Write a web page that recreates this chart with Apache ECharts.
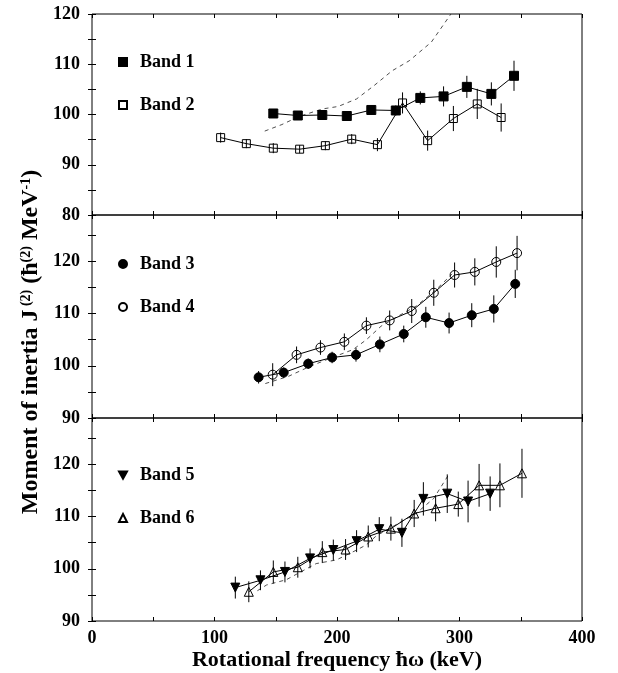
<!DOCTYPE html>
<html>
<head>
<meta charset="utf-8">
<script src="https://cdn.jsdelivr.net/npm/echarts@6/dist/echarts.min.js"></script>
<style>
  html, body { margin: 0; padding: 0; background: #fff; }
  #chart { width: 618px; height: 673px; }
</style>
</head>
<body>
<div id="chart"></div>
<script>
// panel 1
var band1X = [148, 168, 188, 208, 228, 248, 268, 287, 306, 326, 344.5];
var band1Y = [100.2, 99.8, 99.9, 99.7, 100.9, 100.8, 103.3, 103.6, 105.5, 104.1, 107.7];
var band1Err = [0.8, 0.8, 0.8, 0.8, 0.9, 1.0, 1.3, 2.0, 2.2, 2.3, 3.0];
var band2X = [105, 126, 148, 169.5, 190.5, 212, 233, 253.5, 274, 295, 314.5, 334];
var band2Y = [95.4, 94.2, 93.3, 93.1, 93.8, 95.1, 94.0, 102.3, 94.8, 99.2, 102.1, 99.4];
var band2Err = [1.0, 0.9, 1.0, 0.8, 0.9, 1.0, 1.3, 2.1, 2.0, 2.5, 3.0, 2.8];
var dash1X = [141, 155, 169, 188, 201, 216, 230, 245, 259, 277, 293];
var dash1Y = [96.7, 98.0, 99.6, 101.1, 101.6, 103.1, 105.7, 108.7, 110.7, 114.4, 120];

// panel 2
var band3X = [136, 156.5, 176.5, 196, 215.5, 235, 254.5, 272.5, 291.5, 310, 328, 345.5];
var band3Y = [97.8, 98.7, 100.4, 101.6, 102.1, 104.1, 106.1, 109.3, 108.2, 109.7, 110.9, 115.7];
var band3Err = [1.2, 1.0, 1.0, 1.1, 1.3, 1.5, 1.6, 2.0, 2.0, 2.3, 2.6, 2.7];
var band4X = [147.5, 167, 186.5, 206, 224, 243, 261, 279, 296, 312.5, 330, 347];
var band4Y = [98.3, 102.1, 103.5, 104.6, 107.7, 108.7, 110.5, 114.0, 117.4, 118.0, 119.9, 121.6];
var band4Err = [2.2, 1.6, 1.4, 1.6, 1.6, 1.9, 2.3, 2.5, 2.4, 2.6, 3.0, 3.3];
var dash2X = [141.5, 160.5, 178, 195, 213, 224, 236, 250.5, 265, 280, 294];
var dash2Y = [96.6, 98.0, 99.9, 101.5, 103.1, 105.0, 107.6, 109.6, 111.5, 114.4, 117.6];

// panel 3
var band5X = [117, 137.5, 157.5, 178, 197, 216, 234.5, 253, 270.5, 290, 307, 325];
var band5Y = [96.4, 97.8, 99.4, 102.0, 103.6, 105.3, 107.6, 106.9, 113.4, 114.4, 112.9, 114.4];
var band5Err = [2.1, 1.9, 2.0, 1.9, 2.0, 2.1, 2.3, 2.7, 3.2, 3.7, 4.0, 3.3];
var band6X = [128, 148, 168, 188, 207, 225.5, 244, 263, 280.5, 299, 316, 333, 351];
var band6Y = [95.6, 99.4, 100.3, 103.2, 103.7, 106.2, 107.7, 110.6, 111.6, 112.4, 116.0, 116.0, 118.3];
var band6Err = [2.0, 2.2, 2.0, 2.1, 2.0, 2.1, 2.3, 2.6, 2.5, 2.4, 4.1, 4.2, 4.7];
var dash3X = [135, 142.5, 158.5, 183, 199.5, 216, 224, 232, 247, 264.5, 279, 290.5];
var dash3Y = [95.8, 96.9, 97.9, 101.0, 101.7, 103.6, 104.6, 106.3, 108.3, 110.6, 113.5, 117.8];

var yMin = [80, 90, 90];
var yMax = [120, 128.9, 128.9];
var gridTop = [14, 215, 418];
var gridH = [201, 203, 203];

var FONT = 'Liberation Serif';
var downTri = 'path://M0,0L10,0L5,9Z';

function pairs(xs, ys) {
    var d = [];
    for (var i = 0; i < xs.length; i++) d.push([xs[i], ys[i]]);
    return d;
}

function bandSeries(name, xs, ys, idx, symbol, filled, size) {
    return {
        name: name,
        type: 'line',
        xAxisIndex: idx,
        yAxisIndex: idx,
        data: pairs(xs, ys),
        symbol: symbol,
        symbolSize: size,
        showSymbol: true,
        lineStyle: { color: '#000', width: 1 },
        itemStyle: { color: filled ? '#000' : 'rgba(0,0,0,0)', borderColor: '#000', borderWidth: 1 },
        z: 3
    };
}

function errSeries(xs, ys, es, idx) {
    var d = [];
    for (var i = 0; i < xs.length; i++) d.push([xs[i], ys[i] - es[i], ys[i] + es[i]]);
    return {
        type: 'custom',
        xAxisIndex: idx,
        yAxisIndex: idx,
        data: d,
        silent: true,
        z: 2,
        encode: { x: 0, y: [1, 2] },
        renderItem: function (params, api) {
            var a = api.coord([api.value(0), api.value(1)]);
            var b = api.coord([api.value(0), api.value(2)]);
            return {
                type: 'line',
                shape: { x1: a[0], y1: a[1], x2: b[0], y2: b[1] },
                style: { stroke: '#000', lineWidth: 1 }
            };
        }
    };
}

function dashSeries(xs, ys, idx) {
    return {
        type: 'line',
        xAxisIndex: idx,
        yAxisIndex: idx,
        data: pairs(xs, ys),
        symbol: 'none',
        silent: true,
        lineStyle: { color: '#222', width: 0.8, type: [4, 4] },
        z: 1
    };
}

var grids = [], xAxes = [], yAxes = [];
for (var i = 0; i < 3; i++) {
    grids.push({ left: 92, right: 36, top: gridTop[i], height: gridH[i],
        show: true, borderColor: '#000', borderWidth: 1, backgroundColor: 'transparent' });
}
// bottom x axes, then top x axes
for (var i = 0; i < 6; i++) {
    var g = i % 3;
    xAxes.push({
        type: 'value', gridIndex: g, min: 0, max: 400, interval: 50,
        position: i < 3 ? 'bottom' : 'top',
        axisLine: { show: false },
        splitLine: { show: false },
        axisTick: { inside: true, length: 4, lineStyle: { color: '#000' } },
        axisLabel: {
            show: i === 2, margin: 8, color: '#000', fontFamily: FONT, fontWeight: 'bold', fontSize: 18,
            formatter: function (v) { return v % 100 === 0 ? v : ''; }
        },
        name: i === 2 ? 'Rotational frequency ħω (keV)' : '',
        nameLocation: 'middle',
        nameGap: 28,
        nameTextStyle: { color: '#000', fontFamily: FONT, fontWeight: 'bold', fontSize: 22 }
    });
}
// left y axes, then right y axes
for (var i = 0; i < 6; i++) {
    var g = i % 3;
    yAxes.push({
        type: 'value', gridIndex: g, min: yMin[g], max: yMax[g], interval: 5,
        position: i < 3 ? 'left' : 'right',
        axisLine: { show: false },
        splitLine: { show: false },
        axisTick: { inside: true, length: 4, lineStyle: { color: '#000' } },
        axisLabel: {
            show: i < 3, margin: 12, color: '#000', fontFamily: FONT, fontWeight: 'bold', fontSize: 18,
            showMaxLabel: g === 0,
            formatter: function (v) { return v % 10 === 0 ? v : ''; }
        }
    });
}

function legendAt(top, names, icons) {
    return {
        left: 113, top: top, orient: 'vertical', itemGap: 25,
        itemWidth: 8, itemHeight: 8,
        data: [{ name: names[0], icon: icons[0] }, { name: names[1], icon: icons[1] }],
        textStyle: { color: '#000', fontFamily: FONT, fontWeight: 'bold', fontSize: 18, padding: [0, 0, 0, 8] }
    };
}

var chart = echarts.init(document.getElementById('chart'));
chart.setOption({
    animation: false,
    backgroundColor: '#fff',
    grid: grids,
    xAxis: xAxes,
    yAxis: yAxes,
    legend: [
        legendAt(48, ['Band 1', 'Band 2'], ['rect', 'rect']),
        legendAt(250, ['Band 3', 'Band 4'], ['circle', 'circle']),
        legendAt(461, ['Band 5', 'Band 6'], [downTri, 'triangle'])
    ],
    graphic: [{
        type: 'text',
        x: 31, y: 342,
        rotation: Math.PI / 2,
        style: {
            text: '{b|Moment of inertia J}{s| (2)}{b| (ħ}{s|(2)}{b| MeV}{s|-1}{b|)}',
            align: 'center', verticalAlign: 'middle',
            rich: {
                b: { fontFamily: FONT, fontWeight: 'bold', fontSize: 24, fill: '#000' },
                s: { fontFamily: FONT, fontWeight: 'bold', fontSize: 14, fill: '#000', verticalAlign: 'top' }
            }
        }
    }],
    series: [
        dashSeries(dash1X, dash1Y, 0),
        errSeries(band1X, band1Y, band1Err, 0),
        errSeries(band2X, band2Y, band2Err, 0),
        bandSeries('Band 1', band1X, band1Y, 0, 'rect', true, 9),
        bandSeries('Band 2', band2X, band2Y, 0, 'rect', false, 8),

        dashSeries(dash2X, dash2Y, 1),
        errSeries(band3X, band3Y, band3Err, 1),
        errSeries(band4X, band4Y, band4Err, 1),
        bandSeries('Band 3', band3X, band3Y, 1, 'circle', true, 9),
        bandSeries('Band 4', band4X, band4Y, 1, 'circle', false, 9),

        dashSeries(dash3X, dash3Y, 2),
        errSeries(band5X, band5Y, band5Err, 2),
        errSeries(band6X, band6Y, band6Err, 2),
        bandSeries('Band 5', band5X, band5Y, 2, downTri, true, 9),
        bandSeries('Band 6', band6X, band6Y, 2, 'triangle', false, 9)
    ]
});
</script>
</body>
</html>
